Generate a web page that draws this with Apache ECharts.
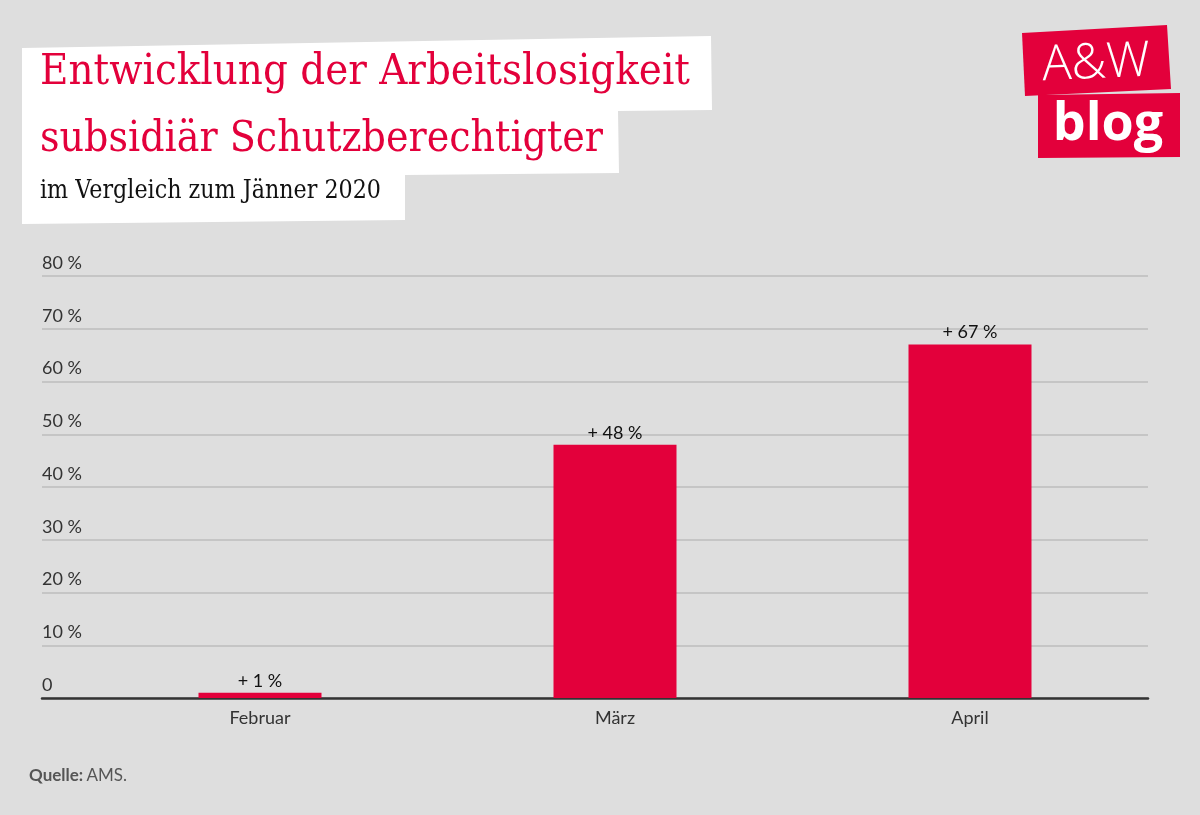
<!DOCTYPE html>
<html>
<head>
<meta charset="utf-8">
<script src="https://cdn.jsdelivr.net/npm/echarts@6/dist/echarts.min.js"></script>
<style>
html,body{margin:0;padding:0;background:#dedede;}
#chart{width:1200px;height:815px;}
</style>
</head>
<body>
<div id="chart"></div>
<script>
const categories = ['Februar', 'März', 'April'];
const values = [1, 48, 67];
const yTicks = [0, 10, 20, 30, 40, 50, 60, 70, 80];
const titleLine1 = 'Entwicklung der Arbeitslosigkeit';
const titleLine2 = 'subsidiär Schutzberechtigter';
const subtitle = 'im Vergleich zum Jänner 2020';
const sourceLabel = 'Quelle:';
const sourceText = 'AMS.';

const RED = '#e3003b';
const SERIF = '"DejaVu Serif", serif';
const SANS = 'Lato, "Open Sans", sans-serif';

function measure(text, font) {
  const c = document.createElement('canvas').getContext('2d');
  c.font = font;
  return c.measureText(text).width;
}
function fitScale(text, size, target) {
  const w = measure(text, size + 'px "DejaVu Serif"');
  return target / w;
}

const chart = echarts.init(document.getElementById('chart'));

const s1 = fitScale(titleLine1, 42, 650);
const s2 = fitScale(titleLine2, 42, 563);
const s3 = fitScale(subtitle, 26, 341);

const option = {
  backgroundColor: '#dedede',
  animation: false,
  grid: [
    { left: 42, right: 52, top: 276, bottom: 117 },
    { left: 82.5, right: 52.5, top: 276, bottom: 117 }
  ],
  xAxis: [
    {
      gridIndex: 0, type: 'value', min: 0, max: 1,
      axisLine: { show: true, lineStyle: { color: '#333', width: 2.5 } },
      axisTick: { show: false }, axisLabel: { show: false }, splitLine: { show: false }
    },
    {
      gridIndex: 1, type: 'category', data: categories,
      axisLine: { show: false }, axisTick: { show: false }, splitLine: { show: false },
      axisLabel: { color: '#333', fontSize: 18, fontFamily: SANS, margin: 11 }
    }
  ],
  yAxis: [
    {
      gridIndex: 0, type: 'value', min: yTicks[0], max: yTicks[yTicks.length - 1], interval: 10,
      axisLine: { show: false }, axisTick: { show: false },
      splitLine: { show: true, lineStyle: { color: '#bcbcbc', width: 1.5 } },
      axisLabel: {
        inside: true, margin: 0, align: 'left', verticalAlign: 'bottom',
        padding: [0, 0, 4, 0],
        color: '#333', fontSize: 18, fontFamily: SANS,
        formatter: v => v === 0 ? '0' : v + ' %'
      }
    },
    {
      gridIndex: 1, type: 'value', min: yTicks[0], max: yTicks[yTicks.length - 1],
      show: false, splitLine: { show: false }
    }
  ],
  series: [
    {
      type: 'bar', xAxisIndex: 1, yAxisIndex: 1,
      data: values, barWidth: 123,
      itemStyle: { color: RED },
      label: {
        show: true, position: 'top', distance: 3,
        color: '#111', fontSize: 18, fontFamily: SANS,
        formatter: p => '+ ' + p.value + ' %'
      }
    }
  ],
  graphic: [
    {
      type: 'polygon', z: 0,
      shape: { points: [[22,48],[711,36],[712,110],[618,111],[619,173],[405,175],[405,220],[22,224]] },
      style: { fill: '#ffffff' }
    },
    {
      type: 'text', x: 40, y: 52, scaleX: s1,
      style: { text: titleLine1, fill: RED, font: '42px ' + SERIF, verticalAlign: 'top' }
    },
    {
      type: 'text', x: 40, y: 119, scaleX: s2,
      style: { text: titleLine2, fill: RED, font: '42px ' + SERIF, verticalAlign: 'top' }
    },
    {
      type: 'text', x: 40, y: 178, scaleX: s3,
      style: { text: subtitle, fill: '#111', font: '26px ' + SERIF, verticalAlign: 'top' }
    },
    {
      type: 'polygon',
      shape: { points: [[1022,33],[1167,25],[1171,89],[1025,96]] },
      style: { fill: RED }
    },
    {
      type: 'polygon',
      shape: { points: [[1038,95],[1180,93],[1180,157],[1038,158]] },
      style: { fill: RED }
    },
    {
      type: 'text', x: 1096, y: 64, rotation: 0.045,
      style: { text: 'A&W', fill: '#fff', font: '300 49px "Open Sans", sans-serif', align: 'center', verticalAlign: 'middle' }
    },
    {
      type: 'text', x: 1108, y: 125,
      style: { text: 'blog', fill: '#fff', font: 'bold 52px "Open Sans", sans-serif', align: 'center', verticalAlign: 'middle' }
    },
    {
      type: 'text', x: 29, y: 776,
      style: {
        text: '{b|' + sourceLabel + '} {n|' + sourceText + '}',
        verticalAlign: 'middle',
        rich: {
          b: { fontFamily: SANS, fontWeight: 'bold', fontSize: 17, fill: '#555', color: '#555' },
          n: { fontFamily: SANS, fontSize: 17, fill: '#555', color: '#555' }
        }
      }
    }
  ]
};
chart.setOption(option);
</script>
</body>
</html>
